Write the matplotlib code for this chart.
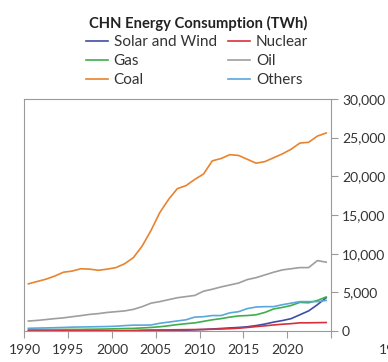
import numpy as np
import matplotlib
matplotlib.use("Agg")
import matplotlib.pyplot as plt

plt.rcParams["font.family"] = ["Lato", "DejaVu Sans"]

# ------------------------------------------------------------------
# Data (TWh)
# ------------------------------------------------------------------

years = list(range(1990, 2025))

solar_wind = [0, 0, 0, 0, 0, 5, 5, 5, 5, 5, 10, 10, 10, 10, 15, 20,
              30, 50, 100, 150, 200, 260, 330, 400, 460, 550, 700, 900,
              1150, 1350, 1600, 2100, 2600, 3400, 4300]
gas = [170, 180, 180, 190, 200, 210, 210, 230, 240, 260, 290, 320, 340,
       400, 460, 550, 680, 830, 950, 1050, 1250, 1450, 1600, 1800, 1950,
       2000, 2100, 2400, 2850, 3050, 3300, 3700, 3650, 3950, 4400]
coal = [6100, 6400, 6700, 7100, 7600, 7750, 8050, 8000, 7850, 8000, 8200,
        8700, 9500, 11000, 13000, 15300, 17000, 18400, 18800, 19600, 20300,
        22000, 22300, 22800, 22700, 22200, 21700, 21900, 22400, 22900,
        23500, 24300, 24400, 25200, 25600]
nuclear = [0, 0, 0, 5, 35, 35, 40, 40, 40, 40, 45, 50, 70, 115, 135, 140,
           150, 165, 180, 190, 200, 230, 260, 300, 360, 460, 570, 670, 780,
           880, 950, 1060, 1060, 1080, 1100]
oil = [1290, 1370, 1480, 1600, 1700, 1850, 1990, 2150, 2250, 2400, 2500,
       2600, 2800, 3150, 3600, 3800, 4050, 4300, 4450, 4600, 5150, 5400,
       5700, 5950, 6200, 6650, 6900, 7250, 7600, 7900, 8050, 8200, 8200,
       9100, 8900]
others = [350, 380, 400, 430, 460, 500, 520, 540, 560, 580, 620, 700, 760,
          760, 780, 1000, 1150, 1300, 1450, 1800, 1850, 2000, 2000, 2350,
          2500, 2900, 3100, 3150, 3150, 3400, 3600, 3800, 3800, 3800, 3950]

series = [
    ("Solar and Wind", solar_wind, "#3e4ea3"),
    ("Gas",            gas,        "#3fae4b"),
    ("Coal",           coal,       "#e8832f"),
    ("Nuclear",        nuclear,    "#d7303d"),
    ("Oil",            oil,        "#9e9e9e"),
    ("Others",         others,     "#5aa7dc"),
]

xtick_years = [1990, 1995, 2000, 2005, 2010, 2015, 2020, 2025]
xtick_labels = ["1990", "1995", "2000", "2005", "2010", "2015", "2020", ""]
ytick_vals = [0, 5000, 10000, 15000, 20000, 25000, 30000]

# ------------------------------------------------------------------
# Plot
# ------------------------------------------------------------------

GRAY = "#9a9a9a"
TXT = "#333333"

fig = plt.figure(figsize=(3.88, 3.62), dpi=100)
ax = fig.add_axes([0.063, 0.0856, 0.79, 0.641])

x = np.array(years) + 0.45   # values sit mid-year on the axis
for label, vals, color in series:
    ax.plot(x, vals, color=color, lw=1.2, label=label)

ax.set_xlim(1990, 2025)
ax.set_ylim(0, 30000)

ax.set_xticks(xtick_years)
ax.set_xticklabels(xtick_labels)
ax.set_yticks(ytick_vals)
ax.set_yticklabels([f"{v:,}" for v in ytick_vals])
ax.yaxis.tick_right()

for s in ax.spines.values():
    s.set_color(GRAY)
    s.set_linewidth(0.8)

ax.tick_params(axis="both", colors=GRAY, labelcolor=TXT, labelsize=10,
               length=5, width=0.8, direction="out")
ax.tick_params(axis="x", pad=4)
ax.tick_params(axis="y", pad=3)

fig.text(0.512, 0.934, "CHN Energy Consumption (TWh)", ha="center",
         va="center", fontsize=10.6, fontweight="bold", color="#222222")

fig.legend(loc="upper center", bbox_to_anchor=(0.508, 0.94), ncol=2,
           frameon=False, fontsize=11, handlelength=1.45,
           handletextpad=0.35, columnspacing=0.75, labelspacing=0.32,
           labelcolor=TXT)

# tick label of the neighbouring panel, cut by the figure edge
fig.text(0.976, 0.033, "1990", ha="left", va="center", fontsize=10,
         color=TXT)

fig.savefig("out.png", dpi=100)
